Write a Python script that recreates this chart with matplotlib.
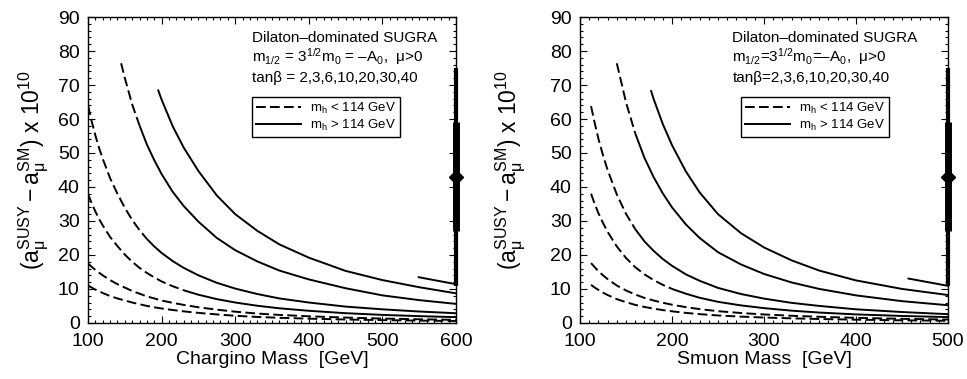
import matplotlib
matplotlib.use("Agg")
import matplotlib.pyplot as plt
from matplotlib.lines import Line2D
from matplotlib.ticker import MultipleLocator

plt.rcParams.update({
    "font.family": ["Liberation Sans", "DejaVu Sans"],
    "mathtext.fontset": "custom",
    "mathtext.rm": "Liberation Sans",
    "mathtext.it": "Liberation Sans",
    "mathtext.default": "regular",
})

# --- left panel: chargino mass [GeV] vs (a_mu^SUSY - a_mu^SM) x 1e10 ---
CH_M = [100, 105, 110, 115, 120, 130, 140, 150, 160, 170, 180, 190, 200,
        215, 230, 250, 275, 300, 330, 360, 400, 450, 500, 550, 600]
CH_TB2 = [11.0, 10.4, 9.8, 9.3, 8.8, 7.9, 7.2, 6.6, 6.0, 5.5, 5.0, 4.6, 4.25,
          3.8, 3.4, 2.95, 2.5, 2.1, 1.75, 1.5, 1.25, 1.0, 0.82, 0.68, 0.56]
CH_TB3 = [17.5, 16.5, 15.6, 14.8, 14.0, 12.6, 11.4, 10.4, 9.4, 8.6, 7.8, 7.2, 6.6,
          5.9, 5.3, 4.6, 3.9, 3.3, 2.75, 2.35, 1.95, 1.57, 1.28, 1.07, 0.9]
CH_TB6 = [38.0, 35.2, 32.8, 30.6, 28.7, 25.3, 22.6, 20.1, 18.0, 16.2, 14.7, 13.4, 12.2,
          10.8, 9.6, 8.3, 7.0, 6.0, 5.05, 4.3, 3.57, 2.86, 2.36, 1.99, 1.69]
CH_TB10 = [64.0, 59.3, 55.2, 51.5, 48.3, 42.6, 38.0, 33.9, 30.3, 27.3, 24.7, 22.5, 20.6,
           18.2, 16.2, 14.0, 11.8, 10.1, 8.5, 7.2, 6.0, 4.8, 4.0, 3.35, 2.85]
CH_TB20_M = [145, 150, 160, 170, 180, 190, 200, 215, 230, 250, 275, 300, 330, 360,
             400, 450, 500, 550, 600]
CH_TB20 = [76.4, 72.1, 64.3, 58.1, 52.5, 47.9, 43.8, 38.6, 34.4, 29.8, 25.0, 21.4, 18.1, 15.4,
           12.8, 10.2, 8.1, 6.7, 5.6]
CH_TB30_M = [195, 200, 215, 230, 250, 275, 300, 330, 360, 400, 450, 500, 550, 600]
CH_TB30 = [68.7, 65.7, 57.9, 51.6, 44.7, 37.5, 32.0, 27.1, 23.1, 19.2, 15.3, 12.6, 10.5, 8.7]
CH_TB40_M = [548, 575, 600]
CH_TB40 = [13.5, 12.4, 11.4]
# mass where m_h crosses 114 GeV (dashed below, solid above); None = dashed throughout
CH_SWITCH = [None, None, 230, 180, 170, 195, 548]

# --- right panel: smuon mass [GeV] ---
SM_M = [112, 116, 120, 125, 130, 140, 150, 160, 170, 180, 190, 200,
        215, 230, 250, 275, 300, 330, 360, 400, 450, 500]
SM_TB2 = [11.2, 10.4, 9.7, 8.9, 8.2, 7.0, 6.1, 5.3, 4.7, 4.2, 3.77, 3.41,
          2.95, 2.58, 2.19, 1.85, 1.58, 1.34, 1.15, 0.95, 0.76, 0.63]
SM_TB3 = [17.6, 16.4, 15.2, 14.0, 12.9, 11.0, 9.55, 8.34, 7.37, 6.59, 5.92, 5.36,
          4.64, 4.06, 3.45, 2.91, 2.49, 2.10, 1.80, 1.49, 1.20, 0.99]
SM_TB6 = [38.0, 35.0, 32.3, 29.4, 26.8, 22.5, 19.1, 16.4, 14.3, 12.6, 11.2, 10.0,
          8.6, 7.4, 6.2, 5.15, 4.35, 3.6, 3.05, 2.5, 2.05, 1.7]
SM_TB10 = [63.8, 58.8, 54.2, 49.3, 45.0, 37.8, 32.1, 27.6, 24.0, 21.2, 18.8, 16.8,
           14.3, 12.4, 10.3, 8.5, 7.15, 5.9, 5.0, 4.0, 3.2, 2.57]
SM_TB20_M = [140, 150, 160, 170, 180, 190, 200, 215, 230, 250, 275, 300, 330, 360,
             400, 450, 500]
SM_TB20 = [76.4, 64.9, 55.8, 48.6, 42.9, 38.1, 34.0, 29.0, 25.0, 20.8, 17.2, 14.4, 11.9, 10.0,
           8.1, 6.4, 5.2]
SM_TB30_M = [177, 180, 190, 200, 215, 230, 250, 275, 300, 330, 360, 400, 450, 500]
SM_TB30 = [68.5, 65.9, 58.5, 52.3, 44.6, 38.4, 32.0, 26.4, 22.2, 18.4, 15.4, 12.5, 10.0, 8.2]
SM_TB40_M = [456, 478, 500]
SM_TB40 = [13.1, 12.0, 10.9]
SM_SWITCH = [None, None, 200, 160, 160, 177, 456]

# measured deviation: central value, 1 sigma and 2 sigma ranges
EXP_CENTER = 43
EXP_1SIG = [27, 59]
EXP_2SIG = [11, 75]

DASH = (0, (5, 2.2))
YLABEL = r"$(a_{\mu}^{SUSY} -a_{\mu}^{SM})$ x 10$^{10}$"


def draw_curve(ax, m, v, switch):
    if switch is None:
        ax.plot(m, v, color="k", lw=1.4, linestyle=DASH)
        return
    i = m.index(switch)
    if i > 0:
        ax.plot(m[:i + 1], v[:i + 1], color="k", lw=1.4, linestyle=DASH)
    ax.plot(m[i:], v[i:], color="k", lw=1.4, solid_capstyle="butt")


def draw_panel(ax, curves, switches, xlim, xlabel, lines, text_x, leg_x, ylab_x):
    for (m, v), sw in zip(curves, switches):
        draw_curve(ax, m, v, sw)

    x = xlim[1]
    ax.plot([x, x], EXP_2SIG, color="k", lw=3, solid_capstyle="butt", clip_on=False, zorder=5)
    ax.plot([x, x], EXP_1SIG, color="k", lw=5, solid_capstyle="butt", clip_on=False, zorder=5)
    ax.plot([x], [EXP_CENTER], "D", color="k", ms=7.5, clip_on=False, zorder=6)

    ax.set_xlim(*xlim)
    ax.set_ylim(0, 90)
    ax.xaxis.set_major_locator(MultipleLocator(100))
    ax.xaxis.set_minor_locator(MultipleLocator(10))
    ax.yaxis.set_major_locator(MultipleLocator(10))
    ax.yaxis.set_minor_locator(MultipleLocator(2))
    ax.tick_params(which="both", direction="in", top=True, right=True, width=0.8)
    ax.tick_params(which="major", length=5, labelsize=14)
    ax.tick_params(which="minor", length=2.5)
    ax.tick_params(axis="x", pad=7)
    ax.tick_params(axis="y", pad=6)
    for s in ax.spines.values():
        s.set_linewidth(1.0)

    ax.set_xlabel(xlabel, fontsize=14, labelpad=1)
    ax.set_ylabel(YLABEL, fontsize=16.5)
    ax.yaxis.set_label_coords(ylab_x, 0.5)

    for txt, y in zip(lines, [0.919, 0.854, 0.789]):
        ax.text(text_x, y, txt, transform=ax.transAxes, fontsize=11, va="baseline", ha="left")

    handles = [Line2D([], [], color="k", lw=1.4, linestyle=DASH),
               Line2D([], [], color="k", lw=1.4)]
    leg = ax.legend(handles, [r"$m_h$ < 114 GeV", r"$m_h$ > 114 GeV"],
                    loc="upper left", bbox_to_anchor=(leg_x, 0.739), fontsize=9.5,
                    frameon=True, fancybox=False, framealpha=1, edgecolor="k",
                    handlelength=3.4, handletextpad=0.7, borderpad=0.3,
                    labelspacing=0.12, borderaxespad=0)
    leg.get_frame().set_linewidth(1.0)


fig = plt.figure(figsize=(9.67, 3.79), dpi=100)
ax_l = fig.add_axes([0.091, 0.148, 0.3806, 0.807])
ax_r = fig.add_axes([0.5998, 0.148, 0.3806, 0.807])

draw_panel(
    ax_l,
    [(CH_M, CH_TB2), (CH_M, CH_TB3), (CH_M, CH_TB6), (CH_M, CH_TB10),
     (CH_TB20_M, CH_TB20), (CH_TB30_M, CH_TB30), (CH_TB40_M, CH_TB40)],
    CH_SWITCH, (100, 600), "Chargino Mass  [GeV]",
    ["Dilaton\u2013dominated SUGRA",
     "$m_{1/2}$ = 3$^{1/2}$$m_0$ = \u2013$A_0$,  \u03bc>0",
     "tan\u03b2 = 2,3,6,10,20,30,40"],
    0.446, 0.446, -0.10,
)
draw_panel(
    ax_r,
    [(SM_M, SM_TB2), (SM_M, SM_TB3), (SM_M, SM_TB6), (SM_M, SM_TB10),
     (SM_TB20_M, SM_TB20), (SM_TB30_M, SM_TB30), (SM_TB40_M, SM_TB40)],
    SM_SWITCH, (100, 500), "Smuon Mass  [GeV]",
    ["Dilaton\u2013dominated SUGRA",
     "$m_{1/2}$=3$^{1/2}$$m_0$=\u2013$A_0$,  \u03bc>0",
     "tan\u03b2=2,3,6,10,20,30,40"],
    0.414, 0.4375, -0.14,
)

fig.savefig("out.png", dpi=100)
